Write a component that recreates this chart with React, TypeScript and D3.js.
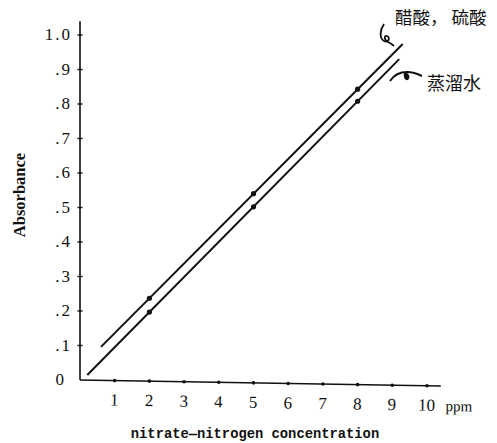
import React, { useRef, useEffect } from "react";
import * as d3 from "d3";

// concentration (ppm) and absorbance
const xTicks = [1, 2, 3, 4, 5, 6, 7, 8, 9, 10];
const yTicks = [0, 0.1, 0.2, 0.3, 0.4, 0.5, 0.6, 0.7, 0.8, 0.9, 1.0];
const yTickLabels = ["0", ".1", ".2", ".3", ".4", ".5", ".6", ".7", ".8", ".9", "1.0"];

const acidPoints = [
  { x: 2, y: 0.237 },
  { x: 5, y: 0.54 },
  { x: 8, y: 0.843 },
];
const waterPoints = [
  { x: 2, y: 0.197 },
  { x: 5, y: 0.502 },
  { x: 8, y: 0.808 },
];
// fitted line ends
const acidLine = [
  { x: 0.605, y: 0.096 },
  { x: 9.3, y: 0.974 },
];
const waterLine = [
  { x: 0.21, y: 0.0145 },
  { x: 9.2, y: 0.93 },
];

const acidLabel = "醋酸， 硫酸";
const waterLabel = "蒸溜水";

const App = () => {
  const svgRef = useRef(null);

  useEffect(() => {
    const svg = d3.select(svgRef.current);
    svg.selectAll("*").remove();

    const x = d3.scaleLinear().domain([0, 10]).range([80, 427]);
    const y = d3.scaleLinear().domain([0, 1]).range([380, 35]);

    const serif = "'Liberation Serif', 'DejaVu Serif', serif";
    const cjk = "'Noto Sans CJK JP', 'Noto Sans CJK SC', sans-serif";

    // y axis
    const ya = svg.append("g");
    ya.append("line")
      .attr("x1", x(0)).attr("x2", x(0))
      .attr("y1", y(0)).attr("y2", y(1.04))
      .attr("stroke", "#111").attr("stroke-width", 1.6);
    ya.selectAll("line.t")
      .data(yTicks.slice(1))
      .join("line")
      .attr("class", "t")
      .attr("x1", x(0) - 2.5).attr("x2", x(0) + 2.5)
      .attr("y1", (d) => y(d)).attr("y2", (d) => y(d))
      .attr("stroke", "#111").attr("stroke-width", 1.4);
    ya.selectAll("text")
      .data(yTicks)
      .join("text")
      .attr("x", (d) => (d === 0 ? 66 : 72))
      .attr("y", (d) => y(d) + 5)
      .attr("text-anchor", "end")
      .attr("font-family", serif)
      .attr("font-size", 17)
      .attr("letter-spacing", 2)
      .attr("fill", "#111")
      .text((d, i) => yTickLabels[i]);

    // x axis (scan is a little tilted)
    const xa = svg.append("g").attr("transform", `rotate(0.95, ${x(0)}, ${y(0)})`);
    xa.append("line")
      .attr("x1", x(0)).attr("x2", x(10.4))
      .attr("y1", y(0)).attr("y2", y(0))
      .attr("stroke", "#111").attr("stroke-width", 1.6);
    xa.selectAll("circle")
      .data(xTicks)
      .join("circle")
      .attr("cx", (d) => x(d)).attr("cy", y(0))
      .attr("r", 1.8).attr("fill", "#111");
    xa.selectAll("text")
      .data(xTicks)
      .join("text")
      .attr("x", (d) => x(d))
      .attr("y", y(0) + 25)
      .attr("text-anchor", "middle")
      .attr("font-family", serif)
      .attr("font-size", 17)
      .attr("fill", "#111")
      .text((d) => d);
    xa.append("text")
      .attr("x", x(10) + 19).attr("y", y(0) + 25)
      .attr("font-family", serif).attr("font-size", 15)
      .attr("fill", "#111")
      .text("ppm");

    // lines
    const line = d3.line().x((d) => x(d.x)).y((d) => y(d.y));
    [acidLine, waterLine].forEach((l) => {
      svg.append("path")
        .attr("d", line(l))
        .attr("fill", "none")
        .attr("stroke", "#111")
        .attr("stroke-width", 2);
    });
    svg.selectAll("circle.p")
      .data([...acidPoints, ...waterPoints])
      .join("circle")
      .attr("class", "p")
      .attr("cx", (d) => x(d.x)).attr("cy", (d) => y(d.y))
      .attr("r", 2.6).attr("fill", "#111");

    // labels with curly leaders
    svg.append("text")
      .attr("x", 395).attr("y", 24)
      .attr("font-family", cjk).attr("font-size", 17.5)
      .attr("fill", "#111")
      .text(acidLabel);
    svg.append("text")
      .attr("x", 427).attr("y", 90)
      .attr("font-family", cjk).attr("font-size", 18)
      .attr("fill", "#111")
      .text(waterLabel);
    svg.append("path")
      .attr("d", "M384,24 C380,30 379,38 384,41 C388,43 391,38 387,36 C384,35 384,40 388,42 C390,43 392,44 394,46")
      .attr("fill", "none").attr("stroke", "#111").attr("stroke-width", 1.8);
    svg.append("path")
      .attr("d", "M390,81 C394,75 400,72 407,72 C413,72 418,74 422,76")
      .attr("fill", "none").attr("stroke", "#111").attr("stroke-width", 2);
    svg.append("path")
      .attr("d", "M404,73 C403,77 405,81 408,80 C410,78 410,75 407,73 Z")
      .attr("fill", "#111");

    // axis titles
    svg.append("text")
      .attr("transform", `translate(25, 195) rotate(-90)`)
      .attr("text-anchor", "middle")
      .attr("font-family", serif)
      .attr("font-weight", "bold")
      .attr("font-size", 16.5)
      .attr("fill", "#111")
      .text("Absorbance");
    svg.append("text")
      .attr("x", 255).attr("y", 438)
      .attr("text-anchor", "middle")
      .attr("font-family", "'Liberation Mono', 'DejaVu Sans Mono', monospace")
      .attr("font-weight", "bold")
      .attr("font-size", 13.8)
      .attr("fill", "#111")
      .text("nitrate\u2014nitrogen concentration");
  }, []);

  return (
    <svg
      ref={svgRef}
      width="497"
      height="443"
      style={{ position: "absolute", left: 0, top: 0, background: "#fff" }}
    />
  );
};

export default App;
